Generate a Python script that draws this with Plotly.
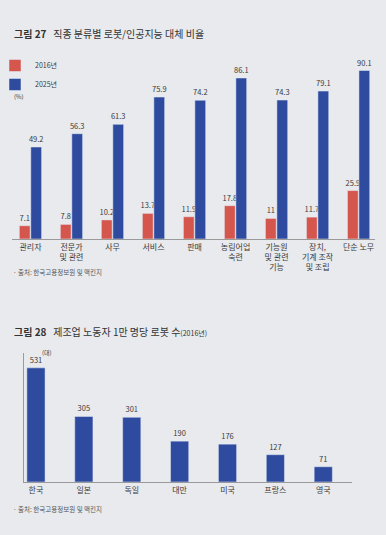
import plotly.graph_objects as go

# Figure 27 data
jobs = ["관리자", "전문가<br>및 관련", "사무", "서비스", "판매", "농림어업<br>숙련",
        "기능원<br>및 관련<br>기능", "장치,<br>기계 조작<br>및 조립", "단순 노무"]
rate_2016 = [7.1, 7.8, 10.2, 13.7, 11.9, 17.8, 11, 11.7, 25.9]
rate_2025 = [49.2, 56.3, 61.3, 75.9, 74.2, 86.1, 74.3, 79.1, 90.1]
labels_2016 = ["7.1", "7.8", "10.2", "13.7", "11.9", "17.8", "11", "11.7", "25.9"]
labels_2025 = ["49.2", "56.3", "61.3", "75.9", "74.2", "86.1", "74.3", "79.1", "90.1"]

# Figure 28 data
countries = ["한국", "일본", "독일", "대만", "미국", "프랑스", "영국"]
robots = [531, 305, 301, 190, 176, 127, 71]

W, H = 386, 535
def px_y(y):
    return 1 - y / H
def px_x(x):
    return x / W

RED = "#d5564d"
BLUE = "#2f4b9f"
BG = "#e8eaee"
TXT = "#3a3a3a"
FONT = "Noto Sans CJK KR"

fig = go.Figure()
fig.add_trace(go.Bar(x=jobs, y=rate_2016, name="2016년", marker_color=RED,
                     text=labels_2016, textposition="outside",
                     textfont=dict(size=7.5, color=TXT), cliponaxis=False,
                     xaxis="x", yaxis="y"))
fig.add_trace(go.Bar(x=jobs, y=rate_2025, name="2025년", marker_color=BLUE,
                     text=labels_2025, textposition="outside",
                     textfont=dict(size=7.5, color=TXT), cliponaxis=False,
                     xaxis="x", yaxis="y"))
fig.add_trace(go.Bar(x=countries, y=robots, marker_color=BLUE, width=0.38,
                     text=[str(v) for v in robots], textposition="outside",
                     textfont=dict(size=7.5, color=TXT), cliponaxis=False,
                     showlegend=False, xaxis="x2", yaxis="y2"))

fig.update_layout(
    width=W, height=H,
    margin=dict(l=0, r=0, t=0, b=0, autoexpand=False),
    paper_bgcolor=BG, plot_bgcolor=BG,
    font=dict(family=FONT, color=TXT, size=8),
    barmode="group", bargap=0.44, bargroupgap=0.06,
    uniformtext=dict(minsize=7.5, mode="show"),
    showlegend=True,
    legend=dict(x=px_x(-5), y=px_y(51), xref="paper", yref="paper",
                xanchor="left", yanchor="top",
                bgcolor="rgba(0,0,0,0)", font=dict(size=7, color=TXT),
                itemwidth=30, tracegroupgap=0, traceorder="normal"),
    xaxis=dict(domain=[px_x(12), px_x(375)], range=[-0.45, 8.4],
               showline=True, linecolor="#9a9a9a", linewidth=1, automargin=False,
               ticks="", tickfont=dict(size=8, color=TXT), showgrid=False),
    yaxis=dict(domain=[px_y(239), px_y(52)], range=[0, 100], visible=False,
               showgrid=False, automargin=False),
    xaxis2=dict(domain=[px_x(24), px_x(352)], range=[-0.25, 6.6], anchor="y2",
                showline=True, linecolor="#9a9a9a", linewidth=1, automargin=False,
                ticks="", tickfont=dict(size=8, color=TXT), showgrid=False),
    yaxis2=dict(domain=[px_y(482), px_y(353)], range=[0, 600], anchor="x2",
                showline=True, linecolor="#9a9a9a", linewidth=1, automargin=False,
                showticklabels=False, ticks="", showgrid=False, zeroline=False),
)

ann = [
    dict(text="<b>그림 27</b>   직종 분류별 로봇/인공지능 대체 비율", x=px_x(12), y=px_y(34),
         font=dict(size=10, color="#333333")),
    dict(text="(%)", x=px_x(12), y=px_y(97), font=dict(size=6, color=TXT)),
    dict(text="· 출처: 한국고용정보원 및 맥킨지", x=px_x(11), y=px_y(272),
         font=dict(size=6.5, color="#555555")),
    dict(text="<b>그림 28</b>   제조업 노동자 1만 명당 로봇 수<span style='font-size:7px'>(2016년)</span>",
         x=px_x(12), y=px_y(331), font=dict(size=10, color="#333333")),
    dict(text="(대)", x=px_x(40), y=px_y(352), font=dict(size=6, color=TXT)),
    dict(text="· 출처: 한국고용정보원 및 맥킨지", x=px_x(11), y=px_y(509),
         font=dict(size=6.5, color="#555555")),
]
for a in ann:
    a.update(xref="paper", yref="paper", xanchor="left", yanchor="middle", showarrow=False)
fig.update_layout(annotations=ann)

fig.write_html("out.html", config={"displayModeBar": False},
               post_script="document.body.style.margin='0';document.body.style.background='%s';" % BG)
